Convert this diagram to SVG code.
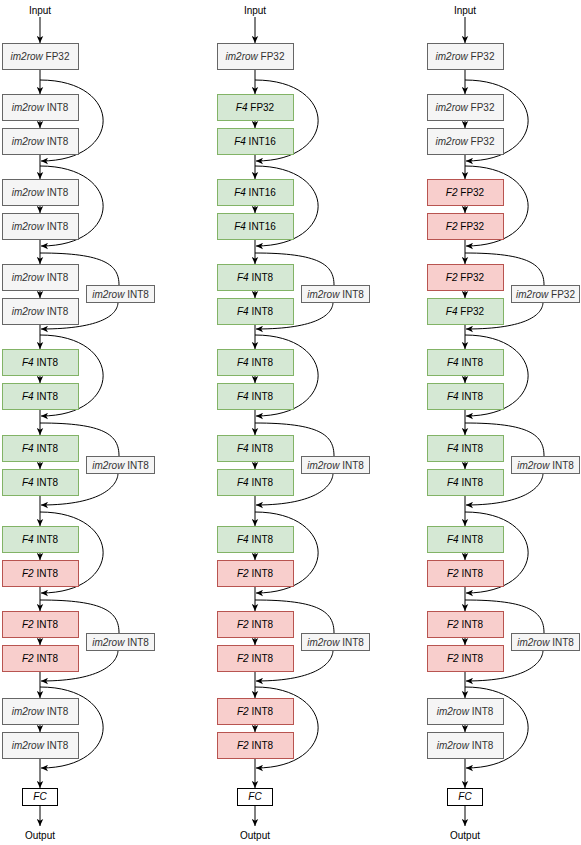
<svg xmlns="http://www.w3.org/2000/svg" width="581" height="845" viewBox="0 0 581 845">
<style>
text{font-family:"Liberation Sans",Arial,sans-serif;font-size:10px;text-anchor:middle;fill:#000}
.i{font-style:italic}
.g rect{fill:#f5f5f5;stroke:#666}
.g text{fill:#333}
.gr rect{fill:#d5e8d4;stroke:#82b366}
.r rect{fill:#f8cecc;stroke:#b85450}
.fc rect{fill:#fff;stroke:#000}
.e path{fill:none;stroke:#000;stroke-width:1}
.e .a{marker-end:url(#ah)}
</style>
<defs>
<marker id="ah" viewBox="0 0 7 7" refX="7" refY="3.5" markerWidth="7" markerHeight="7" markerUnits="userSpaceOnUse" orient="auto"><path d="M0,0.3 L7,3.5 L0,6.7 L1.8,3.5 Z" fill="#000"/></marker>
</defs>

<!-- ================= Column 1 ================= -->
<g id="col1" transform="translate(40,0)">
<g id="c1-edges" class="e">
<path class="a" d="M0,17V43"/><path class="a" d="M0,69V94"/><path class="a" d="M0,120V128"/><path class="a" d="M0,154V179"/><path class="a" d="M0,205V213"/><path class="a" d="M0,239V264"/><path class="a" d="M0,290V298"/><path class="a" d="M0,324V349"/><path class="a" d="M0,375V383"/><path class="a" d="M0,409V435"/><path class="a" d="M0,461V469"/><path class="a" d="M0,495V526"/><path class="a" d="M0,552V560"/><path class="a" d="M0,586V611"/><path class="a" d="M0,637V645"/><path class="a" d="M0,671V698"/><path class="a" d="M0,724V732"/><path class="a" d="M0,758V788"/><path class="a" d="M0,805V826"/>
<path class="a" d="M0,80C84,80 84,161 1,161"/>
<path class="a" d="M0,166C84,166 84,246 1,246"/>
<path d="M0,253C65,253 79,265 79,285"/><path class="a" d="M78,302C78,314 63,329 1,329"/>
<path class="a" d="M0,335C84,335 84,416 1,416"/>
<path d="M0,423C65,423 79,435 79,456"/><path class="a" d="M78,473C78,485 63,505 1,505"/>
<path class="a" d="M0,512C84,512 84,593 1,593"/>
<path d="M0,600C65,600 79,612 79,633"/><path class="a" d="M78,650C78,662 63,681 1,681"/>
<path class="a" d="M0,687C84,687 84,768 1,768"/>
</g>
<g id="c1-input"><text x="0" y="13.5">Input</text></g>
<g id="c1-n0" class="g"><rect x="-37.5" y="43.5" width="76" height="26"/><text x="0" y="60"><tspan class="i">im2row</tspan> FP32</text></g>
<g id="c1-n1" class="g"><rect x="-37.5" y="94.5" width="76" height="26"/><text x="0" y="111"><tspan class="i">im2row</tspan> INT8</text></g>
<g id="c1-n2" class="g"><rect x="-37.5" y="128.5" width="76" height="26"/><text x="0" y="145"><tspan class="i">im2row</tspan> INT8</text></g>
<g id="c1-n3" class="g"><rect x="-37.5" y="179.5" width="76" height="26"/><text x="0" y="196"><tspan class="i">im2row</tspan> INT8</text></g>
<g id="c1-n4" class="g"><rect x="-37.5" y="213.5" width="76" height="26"/><text x="0" y="230"><tspan class="i">im2row</tspan> INT8</text></g>
<g id="c1-n5" class="g"><rect x="-37.5" y="264.5" width="76" height="26"/><text x="0" y="281"><tspan class="i">im2row</tspan> INT8</text></g>
<g id="c1-n6" class="g"><rect x="-37.5" y="298.5" width="76" height="26"/><text x="0" y="315"><tspan class="i">im2row</tspan> INT8</text></g>
<g id="c1-s1" class="g"><rect x="46.5" y="285.5" width="68" height="17"/><text x="80.5" y="297.5"><tspan class="i">im2row</tspan> INT8</text></g>
<g id="c1-n7" class="gr"><rect x="-37.5" y="349.5" width="76" height="26"/><text x="0" y="366"><tspan class="i">F4</tspan> INT8</text></g>
<g id="c1-n8" class="gr"><rect x="-37.5" y="383.5" width="76" height="26"/><text x="0" y="400"><tspan class="i">F4</tspan> INT8</text></g>
<g id="c1-n9" class="gr"><rect x="-37.5" y="435.5" width="76" height="26"/><text x="0" y="452"><tspan class="i">F4</tspan> INT8</text></g>
<g id="c1-n10" class="gr"><rect x="-37.5" y="469.5" width="76" height="26"/><text x="0" y="486"><tspan class="i">F4</tspan> INT8</text></g>
<g id="c1-s2" class="g"><rect x="46.5" y="456.5" width="68" height="17"/><text x="80.5" y="468.5"><tspan class="i">im2row</tspan> INT8</text></g>
<g id="c1-n11" class="gr"><rect x="-37.5" y="526.5" width="76" height="26"/><text x="0" y="543"><tspan class="i">F4</tspan> INT8</text></g>
<g id="c1-n12" class="r"><rect x="-37.5" y="560.5" width="76" height="26"/><text x="0" y="577"><tspan class="i">F2</tspan> INT8</text></g>
<g id="c1-n13" class="r"><rect x="-37.5" y="611.5" width="76" height="26"/><text x="0" y="628"><tspan class="i">F2</tspan> INT8</text></g>
<g id="c1-n14" class="r"><rect x="-37.5" y="645.5" width="76" height="26"/><text x="0" y="662"><tspan class="i">F2</tspan> INT8</text></g>
<g id="c1-s3" class="g"><rect x="46.5" y="633.5" width="68" height="17"/><text x="80.5" y="645.5"><tspan class="i">im2row</tspan> INT8</text></g>
<g id="c1-n15" class="g"><rect x="-37.5" y="698.5" width="76" height="26"/><text x="0" y="715"><tspan class="i">im2row</tspan> INT8</text></g>
<g id="c1-n16" class="g"><rect x="-37.5" y="732.5" width="76" height="26"/><text x="0" y="749"><tspan class="i">im2row</tspan> INT8</text></g>
<g id="c1-fc" class="fc"><rect x="-17.5" y="788.5" width="35" height="17"/><text x="0" y="800" class="i">FC</text></g>
<g id="c1-output"><text x="0" y="838.5">Output</text></g>
</g>

<!-- ================= Column 2 ================= -->
<g id="col2" transform="translate(255,0)">
<g id="c2-edges" class="e">
<path class="a" d="M0,17V43"/><path class="a" d="M0,69V94"/><path class="a" d="M0,120V128"/><path class="a" d="M0,154V179"/><path class="a" d="M0,205V213"/><path class="a" d="M0,239V264"/><path class="a" d="M0,290V298"/><path class="a" d="M0,324V349"/><path class="a" d="M0,375V383"/><path class="a" d="M0,409V435"/><path class="a" d="M0,461V469"/><path class="a" d="M0,495V526"/><path class="a" d="M0,552V560"/><path class="a" d="M0,586V611"/><path class="a" d="M0,637V645"/><path class="a" d="M0,671V698"/><path class="a" d="M0,724V732"/><path class="a" d="M0,758V788"/><path class="a" d="M0,805V826"/>
<path class="a" d="M0,80C84,80 84,161 1,161"/>
<path class="a" d="M0,166C84,166 84,246 1,246"/>
<path d="M0,253C65,253 79,265 79,285"/><path class="a" d="M78,302C78,314 63,329 1,329"/>
<path class="a" d="M0,335C84,335 84,416 1,416"/>
<path d="M0,423C65,423 79,435 79,456"/><path class="a" d="M78,473C78,485 63,505 1,505"/>
<path class="a" d="M0,512C84,512 84,593 1,593"/>
<path d="M0,600C65,600 79,612 79,633"/><path class="a" d="M78,650C78,662 63,681 1,681"/>
<path class="a" d="M0,687C84,687 84,768 1,768"/>
</g>
<g id="c2-input"><text x="0" y="13.5">Input</text></g>
<g id="c2-n0" class="g"><rect x="-37.5" y="43.5" width="76" height="26"/><text x="0" y="60"><tspan class="i">im2row</tspan> FP32</text></g>
<g id="c2-n1" class="gr"><rect x="-37.5" y="94.5" width="76" height="26"/><text x="0" y="111"><tspan class="i">F4</tspan> FP32</text></g>
<g id="c2-n2" class="gr"><rect x="-37.5" y="128.5" width="76" height="26"/><text x="0" y="145"><tspan class="i">F4</tspan> INT16</text></g>
<g id="c2-n3" class="gr"><rect x="-37.5" y="179.5" width="76" height="26"/><text x="0" y="196"><tspan class="i">F4</tspan> INT16</text></g>
<g id="c2-n4" class="gr"><rect x="-37.5" y="213.5" width="76" height="26"/><text x="0" y="230"><tspan class="i">F4</tspan> INT16</text></g>
<g id="c2-n5" class="gr"><rect x="-37.5" y="264.5" width="76" height="26"/><text x="0" y="281"><tspan class="i">F4</tspan> INT8</text></g>
<g id="c2-n6" class="gr"><rect x="-37.5" y="298.5" width="76" height="26"/><text x="0" y="315"><tspan class="i">F4</tspan> INT8</text></g>
<g id="c2-s1" class="g"><rect x="46.5" y="285.5" width="68" height="17"/><text x="80.5" y="297.5"><tspan class="i">im2row</tspan> INT8</text></g>
<g id="c2-n7" class="gr"><rect x="-37.5" y="349.5" width="76" height="26"/><text x="0" y="366"><tspan class="i">F4</tspan> INT8</text></g>
<g id="c2-n8" class="gr"><rect x="-37.5" y="383.5" width="76" height="26"/><text x="0" y="400"><tspan class="i">F4</tspan> INT8</text></g>
<g id="c2-n9" class="gr"><rect x="-37.5" y="435.5" width="76" height="26"/><text x="0" y="452"><tspan class="i">F4</tspan> INT8</text></g>
<g id="c2-n10" class="gr"><rect x="-37.5" y="469.5" width="76" height="26"/><text x="0" y="486"><tspan class="i">F4</tspan> INT8</text></g>
<g id="c2-s2" class="g"><rect x="46.5" y="456.5" width="68" height="17"/><text x="80.5" y="468.5"><tspan class="i">im2row</tspan> INT8</text></g>
<g id="c2-n11" class="gr"><rect x="-37.5" y="526.5" width="76" height="26"/><text x="0" y="543"><tspan class="i">F4</tspan> INT8</text></g>
<g id="c2-n12" class="r"><rect x="-37.5" y="560.5" width="76" height="26"/><text x="0" y="577"><tspan class="i">F2</tspan> INT8</text></g>
<g id="c2-n13" class="r"><rect x="-37.5" y="611.5" width="76" height="26"/><text x="0" y="628"><tspan class="i">F2</tspan> INT8</text></g>
<g id="c2-n14" class="r"><rect x="-37.5" y="645.5" width="76" height="26"/><text x="0" y="662"><tspan class="i">F2</tspan> INT8</text></g>
<g id="c2-s3" class="g"><rect x="46.5" y="633.5" width="68" height="17"/><text x="80.5" y="645.5"><tspan class="i">im2row</tspan> INT8</text></g>
<g id="c2-n15" class="r"><rect x="-37.5" y="698.5" width="76" height="26"/><text x="0" y="715"><tspan class="i">F2</tspan> INT8</text></g>
<g id="c2-n16" class="r"><rect x="-37.5" y="732.5" width="76" height="26"/><text x="0" y="749"><tspan class="i">F2</tspan> INT8</text></g>
<g id="c2-fc" class="fc"><rect x="-17.5" y="788.5" width="35" height="17"/><text x="0" y="800" class="i">FC</text></g>
<g id="c2-output"><text x="0" y="838.5">Output</text></g>
</g>

<!-- ================= Column 3 ================= -->
<g id="col3" transform="translate(465,0)">
<g id="c3-edges" class="e">
<path class="a" d="M0,17V43"/><path class="a" d="M0,69V94"/><path class="a" d="M0,120V128"/><path class="a" d="M0,154V179"/><path class="a" d="M0,205V213"/><path class="a" d="M0,239V264"/><path class="a" d="M0,290V298"/><path class="a" d="M0,324V349"/><path class="a" d="M0,375V383"/><path class="a" d="M0,409V435"/><path class="a" d="M0,461V469"/><path class="a" d="M0,495V526"/><path class="a" d="M0,552V560"/><path class="a" d="M0,586V611"/><path class="a" d="M0,637V645"/><path class="a" d="M0,671V698"/><path class="a" d="M0,724V732"/><path class="a" d="M0,758V788"/><path class="a" d="M0,805V826"/>
<path class="a" d="M0,80C84,80 84,161 1,161"/>
<path class="a" d="M0,166C84,166 84,246 1,246"/>
<path d="M0,253C65,253 79,265 79,285"/><path class="a" d="M78,302C78,314 63,329 1,329"/>
<path class="a" d="M0,335C84,335 84,416 1,416"/>
<path d="M0,423C65,423 79,435 79,456"/><path class="a" d="M78,473C78,485 63,505 1,505"/>
<path class="a" d="M0,512C84,512 84,593 1,593"/>
<path d="M0,600C65,600 79,612 79,633"/><path class="a" d="M78,650C78,662 63,681 1,681"/>
<path class="a" d="M0,687C84,687 84,768 1,768"/>
</g>
<g id="c3-input"><text x="0" y="13.5">Input</text></g>
<g id="c3-n0" class="g"><rect x="-37.5" y="43.5" width="76" height="26"/><text x="0" y="60"><tspan class="i">im2row</tspan> FP32</text></g>
<g id="c3-n1" class="g"><rect x="-37.5" y="94.5" width="76" height="26"/><text x="0" y="111"><tspan class="i">im2row</tspan> FP32</text></g>
<g id="c3-n2" class="g"><rect x="-37.5" y="128.5" width="76" height="26"/><text x="0" y="145"><tspan class="i">im2row</tspan> FP32</text></g>
<g id="c3-n3" class="r"><rect x="-37.5" y="179.5" width="76" height="26"/><text x="0" y="196"><tspan class="i">F2</tspan> FP32</text></g>
<g id="c3-n4" class="r"><rect x="-37.5" y="213.5" width="76" height="26"/><text x="0" y="230"><tspan class="i">F2</tspan> FP32</text></g>
<g id="c3-n5" class="r"><rect x="-37.5" y="264.5" width="76" height="26"/><text x="0" y="281"><tspan class="i">F2</tspan> FP32</text></g>
<g id="c3-n6" class="gr"><rect x="-37.5" y="298.5" width="76" height="26"/><text x="0" y="315"><tspan class="i">F4</tspan> FP32</text></g>
<g id="c3-s1" class="g"><rect x="46.5" y="285.5" width="68" height="17"/><text x="80.5" y="297.5"><tspan class="i">im2row</tspan> FP32</text></g>
<g id="c3-n7" class="gr"><rect x="-37.5" y="349.5" width="76" height="26"/><text x="0" y="366"><tspan class="i">F4</tspan> INT8</text></g>
<g id="c3-n8" class="gr"><rect x="-37.5" y="383.5" width="76" height="26"/><text x="0" y="400"><tspan class="i">F4</tspan> INT8</text></g>
<g id="c3-n9" class="gr"><rect x="-37.5" y="435.5" width="76" height="26"/><text x="0" y="452"><tspan class="i">F4</tspan> INT8</text></g>
<g id="c3-n10" class="gr"><rect x="-37.5" y="469.5" width="76" height="26"/><text x="0" y="486"><tspan class="i">F4</tspan> INT8</text></g>
<g id="c3-s2" class="g"><rect x="46.5" y="456.5" width="68" height="17"/><text x="80.5" y="468.5"><tspan class="i">im2row</tspan> INT8</text></g>
<g id="c3-n11" class="gr"><rect x="-37.5" y="526.5" width="76" height="26"/><text x="0" y="543"><tspan class="i">F4</tspan> INT8</text></g>
<g id="c3-n12" class="r"><rect x="-37.5" y="560.5" width="76" height="26"/><text x="0" y="577"><tspan class="i">F2</tspan> INT8</text></g>
<g id="c3-n13" class="r"><rect x="-37.5" y="611.5" width="76" height="26"/><text x="0" y="628"><tspan class="i">F2</tspan> INT8</text></g>
<g id="c3-n14" class="r"><rect x="-37.5" y="645.5" width="76" height="26"/><text x="0" y="662"><tspan class="i">F2</tspan> INT8</text></g>
<g id="c3-s3" class="g"><rect x="46.5" y="633.5" width="68" height="17"/><text x="80.5" y="645.5"><tspan class="i">im2row</tspan> INT8</text></g>
<g id="c3-n15" class="g"><rect x="-37.5" y="698.5" width="76" height="26"/><text x="0" y="715"><tspan class="i">im2row</tspan> INT8</text></g>
<g id="c3-n16" class="g"><rect x="-37.5" y="732.5" width="76" height="26"/><text x="0" y="749"><tspan class="i">im2row</tspan> INT8</text></g>
<g id="c3-fc" class="fc"><rect x="-17.5" y="788.5" width="35" height="17"/><text x="0" y="800" class="i">FC</text></g>
<g id="c3-output"><text x="0" y="838.5">Output</text></g>
</g>
</svg>
